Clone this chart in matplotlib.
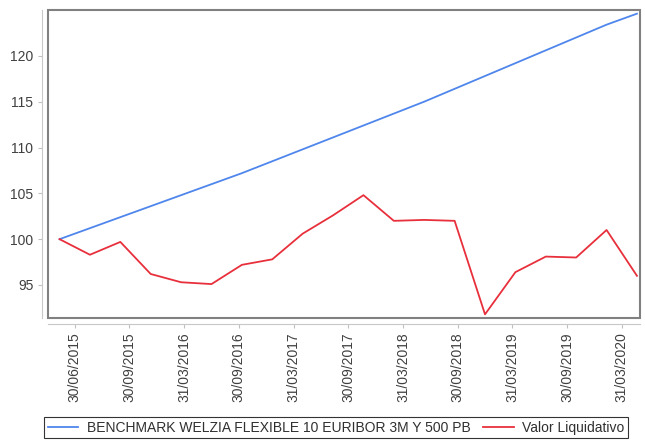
import numpy as np
import matplotlib.pyplot as plt
from matplotlib.patches import Rectangle

plt.rcParams['font.family'] = ['Liberation Sans', 'DejaVu Sans']

# valores trimestrales (base 100)
benchmark = [100.0, 101.2, 102.4, 103.6, 104.8, 106.0, 107.2, 108.5, 109.8, 111.1,
             112.4, 113.7, 115.0, 116.4, 117.8, 119.2, 120.6, 122.0, 123.4, 124.6]
valor_liq = [100.0, 98.3, 99.7, 96.2, 95.3, 95.1, 97.2, 97.8, 100.6, 102.6,
             104.8, 102.0, 102.1, 102.0, 91.8, 96.4, 98.1, 98.0, 101.0, 96.0]
tick_labels = ['30/06/2015', '30/09/2015', '31/03/2016', '30/09/2016', '31/03/2017',
               '30/09/2017', '31/03/2018', '30/09/2018', '31/03/2019', '30/09/2019',
               '31/03/2020']
yticks = [95, 100, 105, 110, 115, 120]

x = np.arange(len(valor_liq))

fig = plt.figure(figsize=(6.45, 4.45), dpi=100)
ax = fig.add_axes([48/645, 1 - 318/445, 592/645, 308/445])

ax.plot(x, benchmark, color='#4f86ec', lw=1.3,
        label='BENCHMARK WELZIA FLEXIBLE 10 EURIBOR 3M Y 500 PB')
ax.plot(x, valor_liq, color='#e8303c', lw=1.3, label='Valor Liquidativo')

ax.set_xlim(-0.38, 19.1)
ax.set_ylim(91.4, 125.0)
ax.set_yticks(yticks)
ax.set_xticks(0.5 + 1.8 * np.arange(len(tick_labels)))
ax.set_xticklabels(tick_labels)

for s in ['top', 'right']:
    ax.spines[s].set_visible(False)
for s in ['left', 'bottom']:
    ax.spines[s].set_position(('outward', 4))
    ax.spines[s].set_color('#c8c8c8')
ax.add_patch(Rectangle((0, 0), 1, 1, transform=ax.transAxes, fill=False,
                       edgecolor='#808080', lw=1.5, clip_on=False, zorder=5))
ax.tick_params(colors='#c0c0c0', labelcolor='#404040', labelsize=10, length=3)
ax.tick_params(axis='x', labelrotation=90)

leg = fig.legend(loc='lower center', bbox_to_anchor=(0.521, 0.0), ncol=2,
                 fontsize=10, frameon=True, fancybox=False, handlelength=2.2,
                 columnspacing=0.9, handletextpad=0.6, borderpad=0.25,
                 labelcolor='#303030')
leg.get_frame().set_edgecolor('black')
leg.get_frame().set_linewidth(0.8)

fig.savefig('out.png', dpi=100)
